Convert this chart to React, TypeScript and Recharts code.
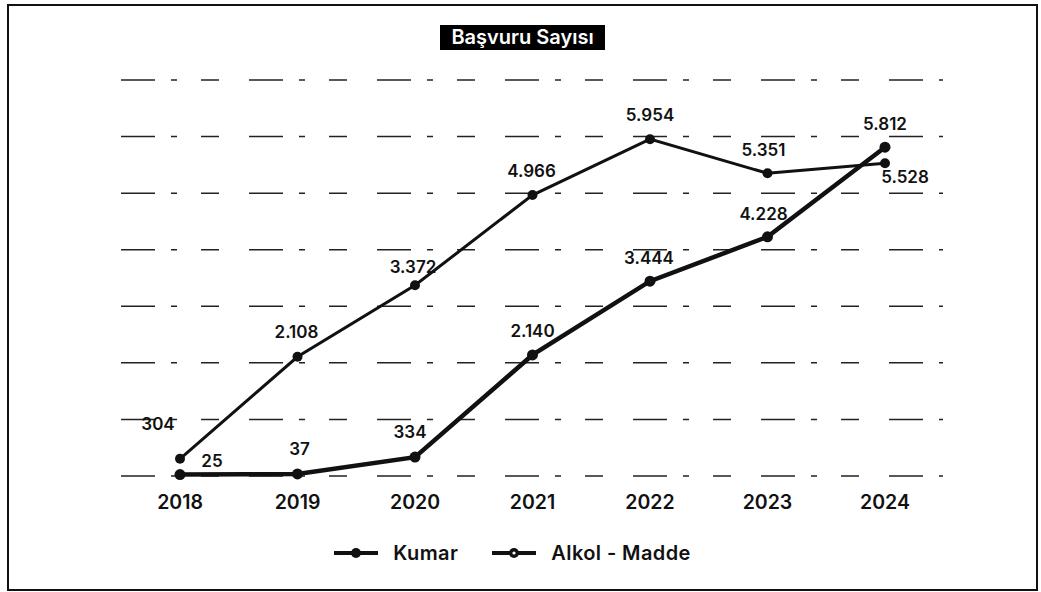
import { LineChart, Line, XAxis, YAxis, CartesianGrid, Legend, LabelList } from "recharts";

const years = ["2018", "2019", "2020", "2021", "2022", "2023", "2024"];
const kumar = [25, 37, 334, 2140, 3444, 4228, 5812];
const alkolMadde = [304, 2108, 3372, 4966, 5954, 5351, 5528];
const yTicks = [0, 1000, 2000, 3000, 4000, 5000, 6000, 7000];

const data = years.map((year, i) => ({ year, kumar: kumar[i], alkol: alkolMadde[i] }));

// label nudges (dx, baseline dy) so they sit where the original put them
const kumarLabelOffset = [[32, -8], [2, -19], [-5, -19], [0, -18], [-1, -17], [-4, -17], [0, -17]];
const alkolLabelOffset = [[-22, -29], [-1, -19], [-2, -12], [-1, -18], [0, -18], [-4, -17], [20, 20]];

const INK = "#111";
const FONT = "Inter, 'Noto Sans', sans-serif";

const fmt = (v: number) => String(v).replace(/\B(?=(\d{3})+(?!\d))/g, ".");

function makeLabel(offsets: number[][]) {
  return (props: any) => {
    const { x, y, value, index } = props;
    const [dx, dy] = offsets[index] ?? [0, -18];
    return (
      <text
        x={Number(x) + dx}
        y={Number(y) + dy}
        textAnchor="middle"
        fill={INK}
        fontSize={17}
        fontWeight={600}
        fontFamily={FONT}
      >
        {fmt(Number(value))}
      </text>
    );
  };
}

function LegendContent() {
  const items = [
    { name: "Kumar", hollow: false },
    { name: "Alkol - Madde", hollow: true },
  ];
  return (
    <div style={{ display: "flex", justifyContent: "center", alignItems: "center", gap: 34, fontFamily: FONT }}>
      {items.map((it) => (
        <div key={it.name} style={{ display: "flex", alignItems: "center", gap: 15 }}>
          <svg width={44} height={14}>
            <line x1={0} y1={7} x2={44} y2={7} stroke={INK} strokeWidth={4} />
            <circle cx={22} cy={7} r={5} fill={INK} />
            {it.hollow && <circle cx={22} cy={7} r={1.6} fill="#fff" />}
          </svg>
          <span style={{ fontSize: 20, fontWeight: 600, color: INK, letterSpacing: 0.4 }}>{it.name}</span>
        </div>
      ))}
    </div>
  );
}

export default function App() {
  return (
    <div style={{ position: "fixed", left: 0, top: 0, width: 1041, height: 592, background: "#fff" }}>
      <div
        style={{
          position: "absolute",
          left: 7,
          top: 4,
          width: 1031,
          height: 587,
          border: `2px solid ${INK}`,
          boxSizing: "border-box",
        }}
      />
      <div
        style={{
          position: "absolute",
          left: 440,
          top: 25,
          width: 165,
          height: 25,
          background: "#000",
          color: "#fff",
          fontFamily: FONT,
          fontSize: 20,
          fontWeight: 600,
          lineHeight: "25px",
          textAlign: "center",
          whiteSpace: "nowrap",
          zIndex: 2,
        }}
      >
        Başvuru Sayısı
      </div>
      <LineChart
        width={1041}
        height={592}
        data={data}
        margin={{ top: 80, left: 121, right: 98, bottom: 86 }}
      >
        <CartesianGrid
          vertical={false}
          stroke="#222"
          strokeWidth={1.5}
          strokeDasharray="34 16 6 24 18 30"
        />
        <XAxis
          dataKey="year"
          axisLine={false}
          tickLine={false}
          padding={{ left: 59, right: 58 }}
          height={30}
          tickMargin={13}
          tick={{ fill: INK, fontSize: 19.5, fontWeight: 600, fontFamily: FONT }}
        />
        <YAxis hide domain={[0, 7000]} ticks={yTicks} />
        <Legend
          verticalAlign="middle"
          align="center"
          layout="horizontal"
          content={<LegendContent />}
          wrapperStyle={{ top: 541, left: -8, width: 1041 }}
        />
        <Line
          dataKey="alkol"
          name="Alkol - Madde"
          stroke={INK}
          strokeWidth={3}
          dot={{ r: 5, fill: INK, stroke: INK, strokeWidth: 0 }}
          isAnimationActive={false}
        >
          <LabelList dataKey="alkol" content={makeLabel(alkolLabelOffset)} />
        </Line>
        <Line
          dataKey="kumar"
          name="Kumar"
          stroke={INK}
          strokeWidth={4.5}
          dot={{ r: 5.5, fill: INK, stroke: INK, strokeWidth: 0 }}
          isAnimationActive={false}
        >
          <LabelList dataKey="kumar" content={makeLabel(kumarLabelOffset)} />
        </Line>
      </LineChart>
    </div>
  );
}
